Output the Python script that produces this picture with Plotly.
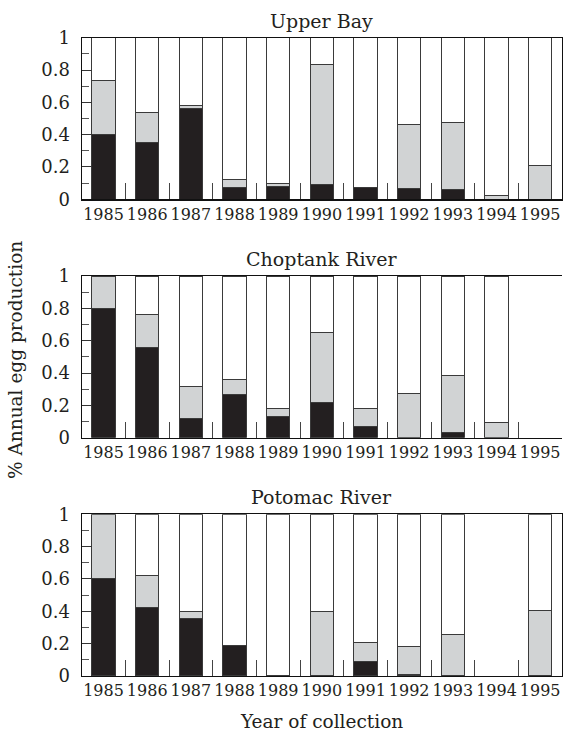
import plotly.graph_objects as go

years = ["1985", "1986", "1987", "1988", "1989", "1990", "1991", "1992", "1993", "1994", "1995"]
regions = ["Upper Bay", "Choptank River", "Potomac River"]

# stacked fractions of annual egg production (bottom black, middle gray, top white)
upper_black = [0.40, 0.35, 0.565, 0.075, 0.08, 0.093, 0.075, 0.064, 0.058, 0.0, 0.0]
upper_gray = [0.335, 0.185, 0.013, 0.046, 0.018, 0.744, 0.0, 0.401, 0.417, 0.022, 0.208]
upper_white = [0.265, 0.465, 0.422, 0.879, 0.902, 0.163, 0.925, 0.535, 0.525, 0.978, 0.792]

chop_black = [0.80, 0.555, 0.116, 0.265, 0.13, 0.219, 0.068, 0.0, 0.035, 0.0, 0.0]
chop_gray = [0.20, 0.207, 0.201, 0.097, 0.048, 0.429, 0.11, 0.271, 0.35, 0.097, 0.0]
chop_white = [0.0, 0.238, 0.683, 0.638, 0.822, 0.352, 0.822, 0.729, 0.615, 0.903, 0.0]

poto_black = [0.60, 0.423, 0.353, 0.186, 0.0, 0.0, 0.089, 0.012, 0.0, 0.0, 0.0]
poto_gray = [0.40, 0.196, 0.047, 0.0, 0.0, 0.398, 0.119, 0.169, 0.256, 0.0, 0.404]
poto_white = [0.0, 0.381, 0.60, 0.814, 1.0, 0.602, 0.792, 0.819, 0.744, 0.0, 0.596]

y_tickvals = [0, 0.2, 0.4, 0.6, 0.8, 1]
y_ticktext = ["0", "0.2", "0.4", "0.6", "0.8", "1"]

BLACK = "#231f20"
GRAY = "#d1d3d4"
WHITE = "#ffffff"
EDGE = "#3a3a3a"
TXT = "#231f20"
FONT = "DejaVu Serif"

panels = [
    (upper_black, upper_gray, upper_white),
    (chop_black, chop_gray, chop_white),
    (poto_black, poto_gray, poto_white),
]

H = 733.0
W = 563.0
# pixel extents of each panel (top, bottom)
panel_px = [(37.7, 199.3), (276.0, 437.7), (514.3, 676.0)]
x_dom = [81.7 / W, 562.0 / W]

fig = go.Figure()
for i, segs in enumerate(panels):
    sfx = "" if i == 0 else str(i + 1)
    for vals, col in zip(segs, (BLACK, GRAY, WHITE)):
        fig.add_trace(go.Bar(
            x=years,
            y=[v if v > 0 else None for v in vals],
            xaxis="x" + sfx,
            yaxis="y" + sfx,
            width=0.533,
            marker=dict(color=col, line=dict(color=EDGE, width=1)),
            showlegend=False,
            hoverinfo="skip",
        ))

layout = dict(
    barmode="stack",
    width=563,
    height=733,
    margin=dict(l=0, r=0, t=0, b=0, autoexpand=False),
    paper_bgcolor="white",
    plot_bgcolor="white",
    font=dict(family=FONT, color=TXT),
    annotations=[],
)

for i, (top, bot) in enumerate(panel_px):
    sfx = "" if i == 0 else str(i + 1)
    dom = [(H - bot) / H, (H - top) / H]
    layout["xaxis" + sfx] = dict(
        domain=x_dom,
        anchor="y" + sfx,
        type="category",
        range=[-0.5, 10.5],
        showline=True, linecolor="#111", linewidth=1.2,
        mirror=True,
        ticks="inside", tickson="boundaries", ticklen=16,
        tickcolor="#444", tickwidth=1,
        tickangle=0,
        automargin=False,
        tickfont=dict(family=FONT, size=16, color=TXT),
        showgrid=False, zeroline=False, fixedrange=True,
    )
    layout["yaxis" + sfx] = dict(
        domain=dom,
        anchor="x" + sfx,
        range=[0, 1],
        showline=True, linecolor="#111", linewidth=1.2,
        mirror=(i != 1),
        tickvals=y_tickvals, ticktext=y_ticktext,
        ticks="inside", ticklen=10, tickcolor="#333", tickwidth=1,
        minor=dict(dtick=0.1, ticks="inside", ticklen=7, tickcolor="#555", showgrid=False),
        ticklabelstandoff=7,
        automargin=False,
        tickfont=dict(family=FONT, size=18, color=TXT),
        showgrid=False, zeroline=False, fixedrange=True,
    )
    layout["annotations"].append(dict(
        text=regions[i], x=(x_dom[0] + x_dom[1]) / 2, y=dom[1],
        xref="paper", yref="paper", xanchor="center", yanchor="bottom",
        yshift=4, showarrow=False,
        font=dict(family=FONT, size=19, color=TXT),
    ))

layout["annotations"].append(dict(
    text="% Annual egg production", x=15 / W, y=(H - 360) / H,
    xref="paper", yref="paper", xanchor="center", yanchor="middle",
    textangle=-90, showarrow=False,
    font=dict(family=FONT, size=18.5, color=TXT),
))
layout["annotations"].append(dict(
    text="Year of collection", x=(x_dom[0] + x_dom[1]) / 2, y=(H - 721) / H,
    xref="paper", yref="paper", xanchor="center", yanchor="middle",
    showarrow=False,
    font=dict(family=FONT, size=18.5, color=TXT),
))

fig.update_layout(**layout)
fig.write_html(
    "out.html",
    config={"displayModeBar": False, "staticPlot": True},
    post_script="document.body.style.margin='0';document.body.style.overflow='hidden';",
)
